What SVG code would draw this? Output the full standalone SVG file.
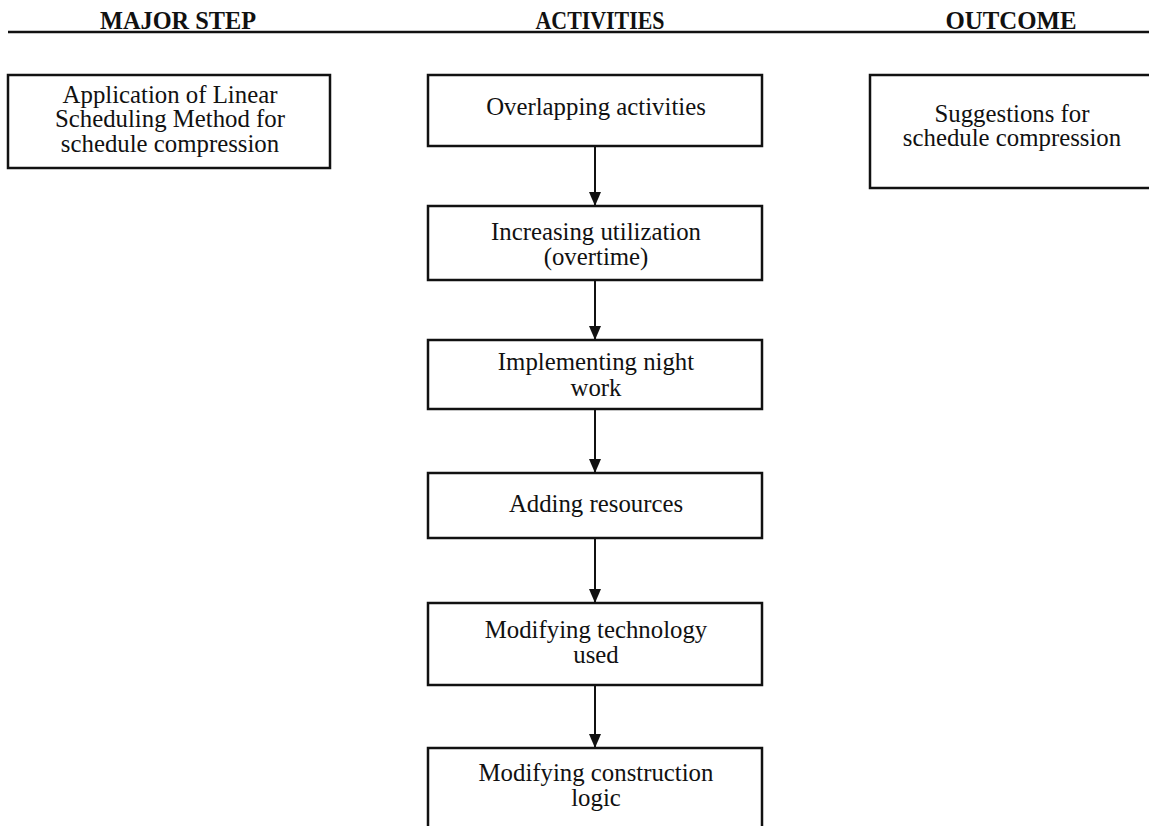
<svg xmlns="http://www.w3.org/2000/svg" width="1149" height="826" viewBox="0 0 1149 826">
<style>
.hdr{font-family:"Liberation Serif","Times New Roman",serif;font-weight:bold;font-size:25px;fill:#111;text-anchor:middle}
.box{fill:#fff;stroke:#111;stroke-width:2.5}
.t{font-family:"Liberation Serif","Times New Roman",serif;font-size:24.8px;fill:#111;text-anchor:middle}
.conn{stroke:#111;stroke-width:2;fill:none}
</style>
<defs>
<marker id="ah" markerWidth="14" markerHeight="12" refX="14" refY="6" orient="auto" markerUnits="userSpaceOnUse" viewBox="0 0 14 12">
<path d="M0,0 L14,6 L0,12 Z" fill="#111"/>
</marker>
</defs>
<rect width="1149" height="826" fill="#fff"/>
<g id="headers">
<line x1="8" y1="32" x2="1149" y2="32" stroke="#111" stroke-width="2.5"/>
<text class="hdr" x="178" y="29" textLength="156" lengthAdjust="spacingAndGlyphs">MAJOR STEP</text>
<text class="hdr" x="600" y="29" textLength="129" lengthAdjust="spacingAndGlyphs">ACTIVITIES</text>
<text class="hdr" x="1011" y="29" textLength="131" lengthAdjust="spacingAndGlyphs">OUTCOME</text>
</g>
<g id="connectors">
<line class="conn" x1="595" y1="146" x2="595" y2="206" marker-end="url(#ah)"/>
<line class="conn" x1="595" y1="280" x2="595" y2="340" marker-end="url(#ah)"/>
<line class="conn" x1="595" y1="409" x2="595" y2="473" marker-end="url(#ah)"/>
<line class="conn" x1="595" y1="538" x2="595" y2="603" marker-end="url(#ah)"/>
<line class="conn" x1="595" y1="685" x2="595" y2="748" marker-end="url(#ah)"/>
</g>
<g id="major-step">
<rect class="box" x="8" y="75" width="322" height="93"/>
<text class="t" x="170" y="103">Application of Linear</text>
<text class="t" x="170" y="127">Scheduling Method for</text>
<text class="t" x="170" y="152">schedule compression</text>
</g>
<g id="outcome">
<rect class="box" x="870" y="75" width="290" height="113"/>
<text class="t" x="1012" y="122">Suggestions for</text>
<text class="t" x="1012" y="146">schedule compression</text>
</g>
<g id="act1">
<rect class="box" x="428" y="75" width="334" height="71"/>
<text class="t" x="596" y="115">Overlapping activities</text>
</g>
<g id="act2">
<rect class="box" x="428" y="206" width="334" height="74"/>
<text class="t" x="596" y="240">Increasing utilization</text>
<text class="t" x="596" y="265">(overtime)</text>
</g>
<g id="act3">
<rect class="box" x="428" y="340" width="334" height="69"/>
<text class="t" x="596" y="370">Implementing night</text>
<text class="t" x="596" y="396">work</text>
</g>
<g id="act4">
<rect class="box" x="428" y="473" width="334" height="65"/>
<text class="t" x="596" y="512">Adding resources</text>
</g>
<g id="act5">
<rect class="box" x="428" y="603" width="334" height="82"/>
<text class="t" x="596" y="638">Modifying technology</text>
<text class="t" x="596" y="663">used</text>
</g>
<g id="act6">
<rect class="box" x="428" y="748" width="334" height="100"/>
<text class="t" x="596" y="781">Modifying construction</text>
<text class="t" x="596" y="806">logic</text>
</g>
</svg>
